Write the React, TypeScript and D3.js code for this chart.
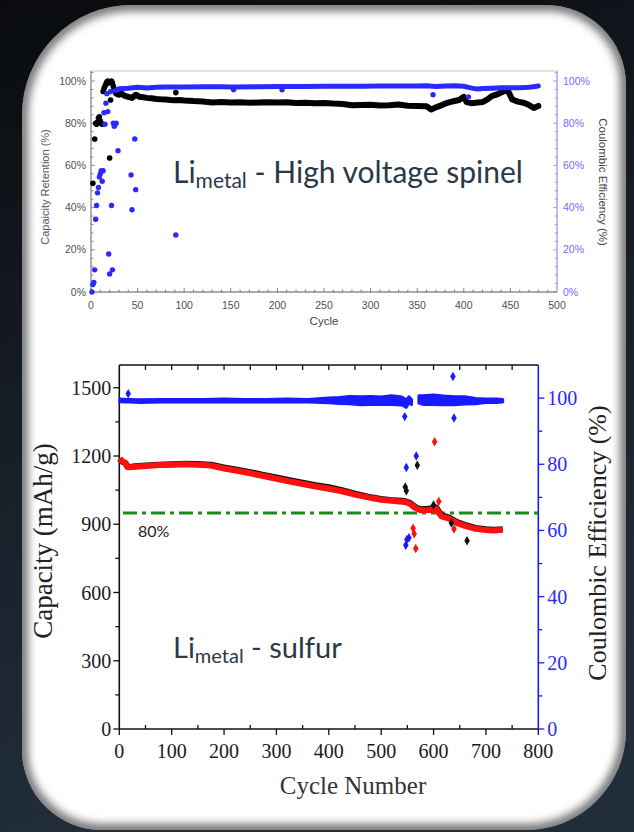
import React from 'react';
import * as d3 from 'd3';

const W = 634;
const H = 832;

// ---- top panel: Li metal / high voltage spinel ----
const retCycles = [25, 27, 30, 33, 36, 40, 44, 48, 52, 56, 60, 65, 70, 75, 80, 85, 90, 95, 100,
  110, 120, 130, 140, 150, 160, 170, 180, 190, 200, 210, 220, 230, 240, 250,
  260, 270, 280, 290, 300, 310, 320, 330, 340, 350, 360,
  365, 370, 375, 380, 385, 390, 395, 400,
  403, 408, 415, 420, 425, 430, 435, 440, 445, 448, 452, 458, 465, 470, 475, 480];
const retValues = [96, 94, 93.5, 94, 93, 92.5, 92, 93.5, 92.5, 92.3, 92, 91.8, 91.5, 91.3, 91.2, 91, 90.9, 91, 90.8,
  90.5, 90.3, 89.8, 90, 89.8, 89.9, 89.7, 89.8, 89.9, 89.8, 89.9, 89.6, 89.7, 89.5, 89.6,
  89.3, 89.1, 88.5, 88.6, 88.7, 88.4, 88.5, 88.9, 88.3, 88.2, 88,
  86.5, 87.5, 88.3, 89.3, 90, 90.5, 91, 92.5,
  90, 89.5, 89.8, 90, 91.2, 92.8, 93.5, 94.5, 95.5, 94.8, 91.2, 90.2, 89.6, 88.6, 87.2, 88.2];
const retDotCycles = [2, 4, 5, 6, 7, 8, 9, 10, 11, 12, 13, 14, 15, 16, 17, 18, 19, 20, 21, 22, 23, 24, 91];
const retDotValues = [51.5, 72.5, 80, 79.5, 80.5, 82.5, 83, 81, 80, 79.5, 95, 96.5, 97.5, 98.5, 99.5, 100, 99, 63.5, 91, 100, 99, 97.5, 94.5];

const ceTopCycles = [26, 30, 35, 40, 50, 60, 70, 80, 90, 100,
  120, 140, 150, 156, 180, 200, 210, 230,
  250, 270, 290, 310, 330, 350, 360, 370, 380, 390,
  400, 405, 410, 415, 420, 430, 440, 450, 460, 470, 475, 480];
const ceTopValues = [95.5, 96.3, 96.5, 96.6, 97, 96.7, 97, 97.1, 97.2, 97.2,
  97.3, 97.3, 97.2, 97.2, 97.3, 97.4, 97.4, 97.4,
  97.5, 97.5, 97.5, 97.6, 97.6, 97.6, 97.7, 97.4, 97.6, 97.7,
  97.5, 97, 96.5, 96.2, 96.4, 96.6, 96.8, 96.8, 96.8, 97, 97.3, 97.6];
const ceTopDotCycles = [1, 2, 3, 4, 5, 6, 7, 8, 9, 10, 11, 12, 13, 14, 15, 16, 17, 18, 19, 20, 21, 22, 23, 24, 25, 26, 27,
  29, 43, 44, 47, 48, 91, 153, 205, 367, 405];
const ceTopDotValues = [0, 3.5, 4.5, 10.5, 34.5, 41, 47, 49.5, 54.5, 56, 57.5, 52.5, 57.5, 85, 79.5, 89.5, 94, 85.5, 18, 8.5, 95, 41, 10.5, 80, 78.5, 79.5, 80,
  67, 55.5, 39, 72.5, 48.5, 27, 95.8, 95.8, 93.5, 92.5];

const topXTicks = [0, 50, 100, 150, 200, 250, 300, 350, 400, 450, 500];
const topYTicks = [0, 20, 40, 60, 80, 100];

// ---- bottom panel: Li metal / sulfur ----
const capCycles = [1, 4, 8, 12, 15, 20, 30, 50, 75, 100, 125, 150, 175, 200, 225, 250, 275, 300, 325, 350, 375, 400,
  425, 450, 475, 500, 525, 545, 555, 565, 575, 590, 605, 615, 630, 645, 660, 680, 700, 715, 732];
const capDischarge = [1190, 1180, 1174, 1170, 1152, 1150, 1153, 1156, 1160, 1162, 1164, 1162, 1158, 1145, 1135, 1124, 1112, 1100, 1088, 1077, 1066, 1056,
  1045, 1030, 1018, 1008, 1002, 998, 990, 972, 962, 963, 968, 935, 925, 905, 893, 880, 875, 873, 876];
const capCharge = [1188, 1178, 1172, 1168, 1155, 1152, 1155, 1158, 1162, 1164, 1166, 1165, 1162, 1150, 1140, 1129, 1117, 1106, 1094, 1083, 1072, 1063,
  1050, 1034, 1021, 1011, 1005, 1002, 994, 976, 966, 968, 974, 940, 929, 909, 897, 884, 878, 876, 878];

const ceCycles = [1, 15, 19, 40, 80, 120, 160, 200, 240, 280, 320, 360, 400, 420, 440, 460, 480, 500, 520, 540, 548, 553, 558,
  565, 572, 580, 600, 620, 640, 660, 680, 700, 720, 732];
const ceValues = [99.3, 99.2, 99.2, 99.1, 99.2, 99.2, 99.2, 99.3, 99.2, 99.2, 99.3, 99.2, 99.3, 99.3, 99.4, 99.2, 99.3, 99.2, 99.4, 99.1, 98.3, 99.5, 98.8,
  NaN, 99.6, 99.4, 99.5, 99.3, 99.2, 99.3, 99.1, 99.2, 99.2, 99.2];
const ceSpread = [0.4, 0.4, 0.4, 0.4, 0.4, 0.4, 0.4, 0.4, 0.4, 0.4, 0.4, 0.4, 0.7, 0.9, 1.1, 1.2, 1.2, 1.1, 1.3, 1.2, 1.1, 0.9, 0.7,
  0, 1.1, 1.3, 1.4, 1.3, 1.2, 1.1, 0.8, 0.5, 0.5, 0.4];

const blackDotCycles = [546, 548, 569, 600, 634, 664];
const blackDotValues = [1064, 1047, 1159, 985, 905, 828];
const redDotCycles = [561, 563, 566, 602, 610, 639];
const redDotValues = [882, 858, 793, 1263, 1000, 879];
const blueDotCycles = [17, 545, 547, 548, 549, 553, 567, 637, 639];
const blueDotValues = [101.3, 94.4, 55.5, 79, 57.3, 57.8, 82.5, 106.5, 94];

const capTicks = [0, 300, 600, 900, 1200, 1500];
const ceTicks = [0, 20, 40, 60, 80, 100];
const cycleTicks = [0, 100, 200, 300, 400, 500, 600, 700, 800];
const retentionLimit = 950;

const pairs = (xs: number[], ys: number[]) => xs.map((x, i) => [x, ys[i]] as [number, number]);

function cardPath(x: number, y: number, w: number, h: number, tl: number, tr: number, br: number, bl: number) {
  return `M${x + tl},${y} H${x + w - tr} A${tr},${tr} 0 0 1 ${x + w},${y + tr} V${y + h - br} ` +
    `A${br},${br} 0 0 1 ${x + w - br},${y + h} H${x + bl} A${bl},${bl} 0 0 1 ${x},${y + h - bl} ` +
    `V${y + tl} A${tl},${tl} 0 0 1 ${x + tl},${y} Z`;
}

const sans = "'Liberation Sans', Arial, sans-serif";
const serif = "'Liberation Serif', 'Times New Roman', serif";
const lato = "Lato, 'Open Sans', sans-serif";

function TopChart() {
  const x = d3.scaleLinear().domain([0, 500]).range([91, 557]);
  const y = d3.scaleLinear().domain([0, 100]).range([292, 81]);
  const top = 71;
  const line = d3.line<[number, number]>().x(d => x(d[0])).y(d => y(d[1]));
  const minorY = d3.range(0, 105, 4);
  const minorX = d3.range(0, 500, 10);

  return (
    <g>
      <rect x={x(0)} y={top} width={x(500) - x(0)} height={y(0) - top} fill="#fff" stroke="#b8b8b8" strokeWidth={0.8} />
      <line x1={x(0)} x2={x(0)} y1={top} y2={y(0)} stroke="#777" strokeWidth={0.9} />
      <line x1={x(0)} x2={x(500)} y1={y(0)} y2={y(0)} stroke="#666" strokeWidth={0.9} />
      <line x1={x(500)} x2={x(500)} y1={top} y2={y(0)} stroke="#8c8cff" strokeWidth={0.9} />
      {minorY.map(v => (
        <line key={'l' + v} x1={x(0)} x2={x(0) + (v % 20 === 0 ? 4 : 2.5)} y1={y(v)} y2={y(v)} stroke="#777" strokeWidth={0.8} />
      ))}
      {minorY.map(v => (
        <line key={'r' + v} x1={x(500)} x2={x(500) - (v % 20 === 0 ? 4 : 2.5)} y1={y(v)} y2={y(v)} stroke="#8c8cff" strokeWidth={0.8} />
      ))}
      {minorX.map(v => (
        <line key={'b' + v} x1={x(v)} x2={x(v)} y1={y(0)} y2={y(0) - (v % 50 === 0 ? 4 : 2.5)} stroke="#666" strokeWidth={0.8} />
      ))}
      {topYTicks.map(v => (
        <text key={'yl' + v} x={x(0) - 5} y={y(v)} dy="0.35em" textAnchor="end" fontFamily={sans} fontSize={10.5} fill="#505050">{v}%</text>
      ))}
      {topYTicks.map(v => (
        <text key={'yr' + v} x={x(500) + 6} y={y(v)} dy="0.35em" fontFamily={sans} fontSize={10.5} fill="#6e6eff">{v}%</text>
      ))}
      {topXTicks.map(v => (
        <text key={'x' + v} x={x(v)} y={309} textAnchor="middle" fontFamily={sans} fontSize={10.5} fill="#505050">{v}</text>
      ))}
      <text x={324} y={325} textAnchor="middle" fontFamily={sans} fontSize={11.5} fill="#444">Cycle</text>
      <text transform="translate(49,187) rotate(-90)" textAnchor="middle" fontFamily={sans} fontSize={11} fill="#555">Capaicity Retention (%)</text>
      <text transform="translate(599,182) rotate(90)" textAnchor="middle" fontFamily={sans} fontSize={11.5} fill="#444">Coulombic Efficiency (%)</text>

      <path d={line(pairs(retCycles, retValues)) || ''} fill="none" stroke="#000" strokeWidth={6} strokeLinejoin="round" strokeLinecap="round" />
      {pairs(retDotCycles, retDotValues).map((d, i) => (
        <circle key={'rd' + i} cx={x(d[0])} cy={y(d[1])} r={2.8} fill="#000" />
      ))}
      <path d={line(pairs(ceTopCycles, ceTopValues)) || ''} fill="none" stroke="#2a2aff" strokeWidth={5} strokeLinejoin="round" strokeLinecap="round" />
      {pairs(ceTopDotCycles, ceTopDotValues).map((d, i) => (
        <circle key={'cd' + i} cx={x(d[0])} cy={y(d[1])} r={2.7} fill="#2a2aff" />
      ))}

      <text x={173} y={183} fontFamily={lato} fontSize={30} fill="#2a3848">
        Li<tspan fontSize={21} dy={5}>metal</tspan><tspan dy={-5}> - High voltage spinel</tspan>
      </text>
    </g>
  );
}

function BottomChart() {
  const x = d3.scaleLinear().domain([0, 800]).range([119.3, 538.3]);
  const y = d3.scaleLinear().domain([0, 1600]).range([729, 365]);
  const yCE = d3.scaleLinear().domain([0, 110]).range([729, 365]);
  const line = d3.line<[number, number]>().x(d => x(d[0])).y(d => y(d[1]));
  const idx = d3.range(ceCycles.length);
  const ceArea = d3.area<number>()
    .defined(i => !isNaN(ceValues[i]))
    .x(i => x(ceCycles[i]))
    .y0(i => yCE(ceValues[i] - ceSpread[i]))
    .y1(i => yCE(ceValues[i] + ceSpread[i]));
  const diamond = d3.symbol().type(d3.symbolDiamond).size(26)() || '';
  const [x0, x1] = x.range();
  const y0 = y(0);
  const yTop = y(1600);

  return (
    <g>
      {/* axis ticks */}
      {d3.range(0, 1600, 150).map(v => (
        <line key={'lt' + v} x1={x0} x2={x0 - (v % 300 === 0 ? 6 : 4)} y1={y(v)} y2={y(v)} stroke="#111" strokeWidth={1.3} />
      ))}
      {d3.range(50, 800, 50).map(v => (
        <line key={'tt' + v} x1={x(v)} x2={x(v)} y1={yTop} y2={yTop + 5} stroke="#111" strokeWidth={1.3} />
      ))}
      {d3.range(0, 801, 50).map(v => (
        v % 100 === 0
          ? <line key={'bt' + v} x1={x(v)} x2={x(v)} y1={y0} y2={y0 + 6} stroke="#111" strokeWidth={1.3} />
          : <line key={'bt' + v} x1={x(v)} x2={x(v)} y1={y0} y2={y0 - 4} stroke="#111" strokeWidth={1.3} />
      ))}
      {d3.range(0, 101, 10).map(v => (
        <line key={'rt' + v} x1={x1} x2={x1 + (v % 20 === 0 ? 6 : 4)} y1={yCE(v)} y2={yCE(v)} stroke="#1a1aff" strokeWidth={1.3} />
      ))}
      {/* frame */}
      <line x1={x0} x2={x0} y1={yTop} y2={y0} stroke="#111" strokeWidth={1.6} />
      <line x1={x0} x2={x1} y1={yTop} y2={yTop} stroke="#111" strokeWidth={1.6} />
      <line x1={x0} x2={x1} y1={y0} y2={y0} stroke="#111" strokeWidth={1.6} />
      <line x1={x1} x2={x1} y1={yTop} y2={y0} stroke="#1a1aff" strokeWidth={1.6} />

      {capTicks.map(v => (
        <text key={'cl' + v} x={x0 - 8} y={y(v)} dy="0.35em" textAnchor="end" fontFamily={serif} fontSize={20} fill="#1a1a1a">{v}</text>
      ))}
      {ceTicks.map(v => (
        <text key={'cr' + v} x={x1 + 9} y={yCE(v)} dy="0.35em" fontFamily={serif} fontSize={20} fill="#2b2bff">{v}</text>
      ))}
      {cycleTicks.map(v => (
        <text key={'cx' + v} x={x(v)} y={758} textAnchor="middle" fontFamily={serif} fontSize={20} fill="#1a1a1a">{v}</text>
      ))}
      <text x={353} y={794} textAnchor="middle" fontFamily={serif} fontSize={25} fill="#333">Cycle Number</text>
      <text transform="translate(52,541) rotate(-90)" textAnchor="middle" fontFamily={serif} fontSize={27} fill="#222">Capacity (mAh/g)</text>
      <text transform="translate(606,543) rotate(-90)" textAnchor="middle" fontFamily={serif} fontSize={26} fill="#222">Coulombic Efficiency (%)</text>

      <line x1={123} x2={x1} y1={y(retentionLimit)} y2={y(retentionLimit)} stroke="#1e8a1e" strokeWidth={3} strokeDasharray="14 5 4 5" />
      <text x={138} y={537} fontFamily={lato} fontSize={16} fill="#222">80%</text>

      <path d={ceArea(idx) || ''} fill="#1a1aff" stroke="#1a1aff" strokeWidth={3} strokeLinejoin="round" />
      <path d={line(pairs(capCycles, capCharge)) || ''} fill="none" stroke="#111" strokeWidth={6} strokeLinejoin="round" />
      <path d={line(pairs(capCycles, capDischarge)) || ''} fill="none" stroke="#ff1010" strokeWidth={6} strokeLinejoin="round" />
      {pairs(blackDotCycles, blackDotValues).map((d, i) => (
        <path key={'bd' + i} d={diamond} transform={`translate(${x(d[0])},${y(d[1])})`} fill="#111" />
      ))}
      {pairs(redDotCycles, redDotValues).map((d, i) => (
        <path key={'red' + i} d={diamond} transform={`translate(${x(d[0])},${y(d[1])})`} fill="#ff1010" />
      ))}
      {pairs(blueDotCycles, blueDotValues).map((d, i) => (
        <path key={'bl' + i} d={diamond} transform={`translate(${x(d[0])},${yCE(d[1])})`} fill="#1a1aff" />
      ))}

      <text x={173} y={658} fontFamily={lato} fontSize={29} fill="#2a3848">
        Li<tspan fontSize={20} dy={5}>metal</tspan><tspan dy={-5}> - sulfur</tspan>
      </text>
    </g>
  );
}

export default function App() {
  const card = cardPath(22, 5, 604, 825, 110, 80, 100, 80);
  return (
    <svg width={W} height={H} style={{ position: 'absolute', left: 0, top: 0, display: 'block' }}>
      <style>{'body{margin:0}'}</style>
      <defs>
        <linearGradient id="bg" x1="0" y1="0" x2="0.25" y2="1">
          <stop offset="0" stopColor="#090b0e" />
          <stop offset="0.3" stopColor="#12161c" />
          <stop offset="0.7" stopColor="#1b2530" />
          <stop offset="1" stopColor="#212e3a" />
        </linearGradient>
        <clipPath id="cardClip">
          <path d={card} />
        </clipPath>
        <filter id="soft" x="-10%" y="-10%" width="120%" height="120%">
          <feGaussianBlur stdDeviation="4" />
        </filter>
      </defs>
      <rect width={W} height={H} fill="url(#bg)" />
      <path d={card} fill="#fff" />
      <g clipPath="url(#cardClip)">
        <path d={card} fill="none" stroke="#000" strokeOpacity={0.55} strokeWidth={12} filter="url(#soft)" />
      </g>
      <TopChart />
      <BottomChart />
    </svg>
  );
}
